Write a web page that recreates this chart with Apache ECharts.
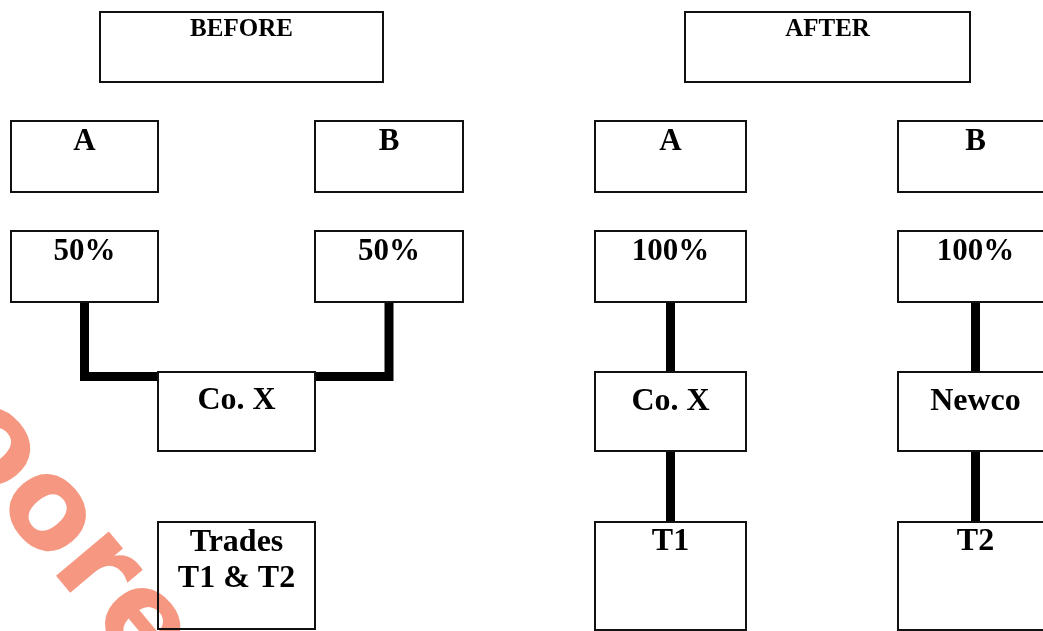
<!DOCTYPE html>
<html><head><meta charset="utf-8">
<script src="https://cdn.jsdelivr.net/npm/echarts@6/dist/echarts.min.js"></script>
<style>html,body{margin:0;padding:0;background:#fff}#chart{width:1043px;height:631px}</style>
</head><body><div id="chart"></div>
<script>
// ---- diagram data (in diagram units) ----
const boxLabels = ['BEFORE','A','B','50%','50%','Co. X','Trades\nT1 & T2','AFTER','A','B','100%','100%','Co. X','Newco','T1','T2'];
const boxLeft   = [100, 11, 315, 11, 315, 158, 158, 685, 595, 898, 595, 898, 595, 898, 595, 898];
const boxTop    = [12, 121, 121, 231, 231, 372, 522, 12, 121, 121, 231, 231, 372, 372, 522, 522];
const boxRight  = [383, 158, 463, 158, 463, 315, 315, 970, 746, 1053, 746, 1053, 746, 1053, 746, 1053];
const boxBottom = [82, 192, 192, 302, 302, 451, 629, 82, 192, 192, 302, 302, 451, 451, 630, 630];
const labelY    = [30, 142, 142, 251.5, 251.5, 401, 560.5, 30, 142, 142, 251.5, 251.5, 402, 402, 542, 542];
// ownership links: [from box index, to box index]
const linkFrom = [3, 4, 10, 12, 11, 13];
const linkTo   = [5, 5, 12, 14, 13, 15];
const watermarkText = 'oore';

// ---- styling ----
const labelSize = [25, 31, 31, 31, 31, 32, 32, 25, 31, 31, 31, 31, 32, 32, 32, 32];
const serif = '"Liberation Serif", "Times New Roman", serif';

const boxData = boxLabels.map((_, i) => [boxLeft[i], boxTop[i], boxRight[i], boxBottom[i], labelY[i], i]);
const linkData = linkFrom.map((f, k) => [f, linkTo[k]]);

const chart = echarts.init(document.getElementById('chart'), null, {renderer: 'canvas'});
chart.setOption({
  animation: false,
  backgroundColor: '#fff',
  grid: {left: 0, right: 0, top: 0, bottom: 0, containLabel: false},
  xAxis: {type: 'value', min: 0, max: 1043, show: false},
  yAxis: {type: 'value', min: 0, max: 631, inverse: true, show: false},
  graphic: [{
    type: 'text', z: 0,
    x: 66, y: 537,
    rotation: -50 * Math.PI / 180,
    style: {
      text: watermarkText,
      fontFamily: '"DejaVu Sans", sans-serif', fontWeight: 'bold', fontSize: 126,
      fill: '#f58a70', opacity: 0.88,
      align: 'center', verticalAlign: 'middle'
    }
  }],
  series: [{
    type: 'custom', z: 3,
    data: linkData,
    renderItem: function (params, api) {
      const f = api.value(0), t = api.value(1);
      const fx = (boxLeft[f] + boxRight[f]) / 2;
      const tx = (boxLeft[t] + boxRight[t]) / 2;
      let pts;
      if (Math.abs(fx - tx) < 10) {
        pts = [[fx, boxBottom[f]], [fx, boxTop[t]]];
      } else {
        const ey = boxTop[t] + 4.5;
        const ex = fx < tx ? boxLeft[t] : boxRight[t];
        pts = [[fx, boxBottom[f]], [fx, ey], [ex, ey]];
      }
      return {
        type: 'polyline',
        shape: {points: pts.map(p => api.coord(p))},
        style: {stroke: '#000', lineWidth: 9, fill: null, lineJoin: 'miter', lineCap: 'butt'}
      };
    }
  }, {
    type: 'custom', z: 4,
    data: boxData,
    renderItem: function (params, api) {
      const i = api.value(5);
      const p0 = api.coord([api.value(0), api.value(1)]);
      const p1 = api.coord([api.value(2), api.value(3)]);
      const c = api.coord([(api.value(0) + api.value(2)) / 2, api.value(4)]);
      return {
        type: 'group',
        children: [{
          type: 'rect',
          shape: {x: p0[0], y: p0[1], width: p1[0] - p0[0], height: p1[1] - p0[1]},
          style: {fill: null, stroke: '#111', lineWidth: 2}
        }, {
          type: 'text',
          x: c[0], y: c[1],
          style: {
            text: boxLabels[i], fill: '#000',
            fontFamily: serif, fontWeight: 'bold', fontSize: labelSize[i],
            lineHeight: 36, align: 'center', verticalAlign: 'middle'
          }
        }]
      };
    }
  }]
});
</script>
</body></html>
